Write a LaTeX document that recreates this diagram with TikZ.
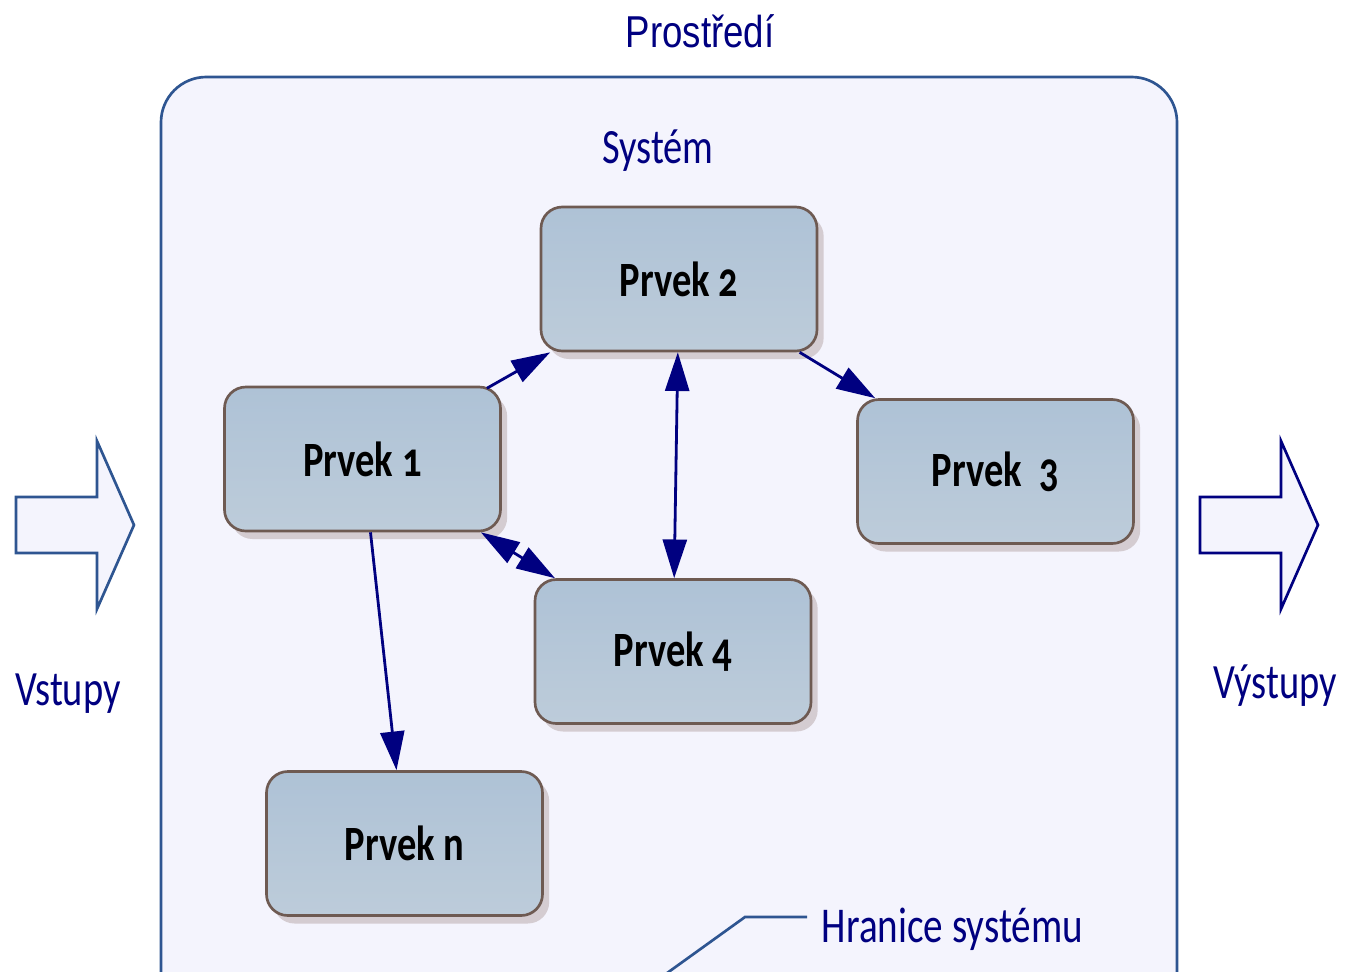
\documentclass[tikz,border=0pt]{standalone}
\usepackage{fontspec}
\setmainfont{Carlito}[FakeStretch=0.78, Numbers=OldStyle]
\newfontfamily\arialfont{Liberation Sans}[FakeStretch=0.82]
\usepackage{tikz}
\usetikzlibrary{arrows.meta, shadows}

\definecolor{envfill}{HTML}{F4F4FD}
\definecolor{envline}{HTML}{2E5591}
\definecolor{navy}{RGB}{0,0,128}
\definecolor{boxtop}{HTML}{AEC2D6}
\definecolor{boxbot}{HTML}{BDCCDA}
\definecolor{boxline}{HTML}{6E5A52}
\definecolor{shadowgray}{HTML}{D4CCD1}

\tikzset{
  prvek/.style={draw=boxline, line width=2pt, rounded corners=16pt,
    top color=boxtop, bottom color=boxbot,
    minimum width=207pt, minimum height=108pt,
    font=\fontsize{37}{40}\selectfont\bfseries,
    drop shadow={shadow xshift=5pt, shadow yshift=-6pt, fill=shadowgray, opacity=1}},
  vazba/.style={draw=navy, line width=2.1pt},
  popis/.style={text=navy, font=\fontsize{37}{40}\selectfont},
  sipka/.style={fill=envfill, line width=2pt, line join=miter},
}

\begin{document}
\begin{tikzpicture}[x=0.75pt, y=-0.75pt, >={Triangle[length=29pt, width=18pt]}]
  \useasboundingbox (0,0) rectangle (1345,971);
  \clip (0,0) rectangle (1345,971);
  % environment and system boundary
  \node[text=navy, font=\arialfont\fontsize{33.5}{36}\selectfont, anchor=base] (prostredi) at (700,47) {Prostředí};
  \draw[envline, fill=envfill, line width=2pt, rounded corners=34pt] (161,77) rectangle (1177,1060);
  \node[popis, anchor=base] (system) at (658,163) {Systém};
  % inputs and outputs
  \draw[sipka, draw=envline] (16,497) -- (97,497) -- (97,441) -- (134,525) -- (97,609) -- (97,553) -- (16,553) -- cycle;
  \draw[sipka, draw=navy] (1200,497) -- (1281,497) -- (1281,441) -- (1318,525) -- (1281,609) -- (1281,553) -- (1200,553) -- cycle;
  \node[popis, anchor=base] (vstupy) at (68,705) {Vstupy};
  \node[popis, anchor=base] (vystupy) at (1275,698) {Výstupy};
  % elements
  \node[prvek] (p2) at (679,279) {Prvek 2};
  \node[prvek] (p1) at (362.5,459) {Prvek 1};
  \node[prvek] (p3) at (995.5,471.5) {Prvek~\ 3};
  \node[prvek] (p4) at (673,651.5) {Prvek 4};
  \node[prvek] (pn) at (404.5,843.5) {Prvek n};
  % relations
  \draw[vazba, ->, shorten <=-4pt] (p1) -- (p2);
  \draw[vazba, ->] (p2) -- (p3);
  \draw[vazba, <->] (p2) -- (p4);
  \draw[vazba, <->] (p1) -- (p4);
  \draw[vazba, ->] (p1) -- (pn);
  % boundary label
  \node[popis, font=\fontsize{37.6}{40}\selectfont, inner sep=11pt, anchor=base west] (hranice) at (807,942) {Hranice systému};
  \coordinate (hrana) at (656,981);
  \coordinate (zlom) at (745,917);
  \draw[envline, line width=2pt] (hrana) -- (zlom) -- (hranice.west |- zlom);
\end{tikzpicture}
\end{document}
